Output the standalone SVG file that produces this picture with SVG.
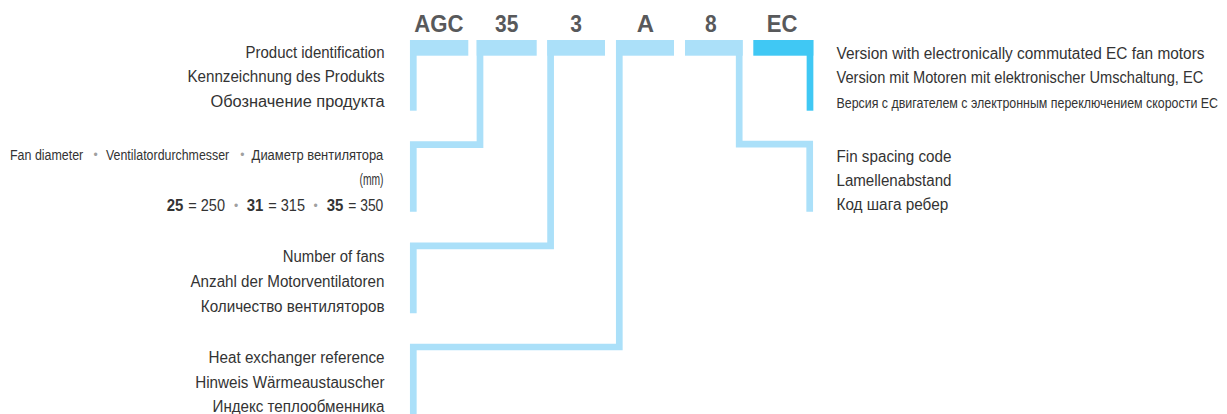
<svg xmlns="http://www.w3.org/2000/svg" width="1227" height="414" viewBox="0 0 1227 414">
<defs>
<style>
.code{font-family:"Liberation Sans",Arial,sans-serif;font-weight:bold;font-size:24.5px;fill:#58595b;text-anchor:middle}
.t{font-family:"Liberation Sans",Arial,sans-serif;font-size:16px;fill:#333333}
.s{font-family:"Liberation Sans",Arial,sans-serif;font-size:15px;fill:#333333}
.r{font-family:"Liberation Sans",Arial,sans-serif;font-size:14px;fill:#333333}
.b{font-weight:bold}
.l{text-anchor:end}
.bar{fill:#abe0f9}
.bar.ec{fill:#40c8f4}
.ln{fill:none;stroke:#abe0f9;stroke-width:6.7;stroke-linejoin:miter;stroke-linecap:butt}
.ln.ec{stroke:#40c8f4}
.dot{font-family:"Liberation Sans",Arial,sans-serif;font-size:12px;fill:#a0a0a0;text-anchor:middle}
</style>
</defs>
<rect width="1227" height="414" fill="#ffffff"/>

<g id="connectors">
<path class="ln" d="M413.3 40 V110.7"/>
<path class="ln" d="M480 40 V144.6 H413.3 V211.7"/>
<path class="ln" d="M550.6 40 V245.8 H413.3 V313.3"/>
<path class="ln" d="M619.3 40 V347 H413.3 V414"/>
<path class="ln" d="M739.2 40 V144.2 H809.7 V211.7"/>
<path class="ln ec" d="M810 40 V110.7"/>
</g>

<g id="code-agc">
<rect class="bar" x="410" y="40" width="58.3" height="15.7"/>
<text class="code" x="439" y="32.3" textLength="49.3" lengthAdjust="spacingAndGlyphs">AGC</text>
</g>
<g id="code-35">
<rect class="bar" x="476.7" y="40" width="60" height="15.7"/>
<text class="code" x="506.7" y="32.3" textLength="23.3" lengthAdjust="spacingAndGlyphs">35</text>
</g>
<g id="code-3">
<rect class="bar" x="547.3" y="40" width="57.7" height="15.7"/>
<text class="code" x="576" y="32.3" textLength="11.7" lengthAdjust="spacingAndGlyphs">3</text>
</g>
<g id="code-a">
<rect class="bar" x="616" y="40" width="58" height="15.7"/>
<text class="code" x="645.3" y="32.3" textLength="17.3" lengthAdjust="spacingAndGlyphs">A</text>
</g>
<g id="code-8">
<rect class="bar" x="685" y="40" width="57.7" height="15.7"/>
<text class="code" x="710.8" y="32.3" textLength="11.7" lengthAdjust="spacingAndGlyphs">8</text>
</g>
<g id="code-ec">
<rect class="bar ec" x="753.3" y="40" width="60" height="15.7"/>
<text class="code" x="782" y="32.3" textLength="30.7" lengthAdjust="spacingAndGlyphs">EC</text>
</g>

<g id="desc-product">
<text class="t l" x="384.5" y="57.5" textLength="139" lengthAdjust="spacingAndGlyphs">Product identification</text>
<text class="t l" x="384.5" y="82" textLength="197" lengthAdjust="spacingAndGlyphs">Kennzeichnung des Produkts</text>
<text class="t l" x="384.5" y="106.5" textLength="174" lengthAdjust="spacingAndGlyphs">Обозначение продукта</text>
</g>

<g id="desc-fan">
<text class="s" transform="translate(10 160) scale(0.83 1)" x="0" y="0">Fan diameter</text>
<text class="dot" x="95.7" y="159">•</text>
<text class="s" transform="translate(106 160) scale(0.826 1)" x="0" y="0">Ventilatordurchmesser</text>
<text class="dot" x="242.3" y="159">•</text>
<text class="s l" transform="translate(383.3 160) scale(0.863 1)" x="0" y="0">Диаметр вентилятора</text>
<text class="t l" x="383.5" y="185" textLength="24" lengthAdjust="spacingAndGlyphs">(mm)</text>
<text class="t b" x="166.7" y="211" textLength="16.6" lengthAdjust="spacingAndGlyphs">25</text>
<text class="t" x="188.3" y="211" textLength="36.7" lengthAdjust="spacingAndGlyphs">= 250</text>
<text class="dot" x="236" y="210">•</text>
<text class="t b" x="246.7" y="211" textLength="16.6" lengthAdjust="spacingAndGlyphs">31</text>
<text class="t" x="268.3" y="211" textLength="36.7" lengthAdjust="spacingAndGlyphs">= 315</text>
<text class="dot" x="315.5" y="210">•</text>
<text class="t b" x="326.7" y="211" textLength="16.6" lengthAdjust="spacingAndGlyphs">35</text>
<text class="t" x="348.3" y="211" textLength="35" lengthAdjust="spacingAndGlyphs">= 350</text>
</g>

<g id="desc-number">
<text class="t l" x="384.5" y="261.7" textLength="101.7" lengthAdjust="spacingAndGlyphs">Number of fans</text>
<text class="t l" x="384.5" y="286.7" textLength="194" lengthAdjust="spacingAndGlyphs">Anzahl der Motorventilatoren</text>
<text class="t l" x="384.5" y="311.7" textLength="183.7" lengthAdjust="spacingAndGlyphs">Количество вентиляторов</text>
</g>

<g id="desc-heat">
<text class="t l" x="384.5" y="363.3" textLength="176" lengthAdjust="spacingAndGlyphs">Heat exchanger reference</text>
<text class="t l" x="384.5" y="388.3" textLength="189.3" lengthAdjust="spacingAndGlyphs">Hinweis Wärmeaustauscher</text>
<text class="t l" x="384.5" y="411.5" textLength="172" lengthAdjust="spacingAndGlyphs">Индекс теплообменника</text>
</g>

<g id="desc-version">
<text class="t" x="836.5" y="58.5" textLength="368" lengthAdjust="spacingAndGlyphs">Version with electronically commutated EC fan motors</text>
<text class="t" transform="translate(836.5 83) scale(0.915 1)" x="0" y="0">Version mit Motoren mit elektronischer Umschaltung, EC</text>
<text class="r" transform="translate(836.5 108) scale(0.887 1)" x="0" y="0">Версия с двигателем с электронным переключением скорости EC</text>
</g>

<g id="desc-fin">
<text class="t" x="836.5" y="161.7" textLength="115" lengthAdjust="spacingAndGlyphs">Fin spacing code</text>
<text class="t" x="836.5" y="185.5" textLength="115" lengthAdjust="spacingAndGlyphs">Lamellenabstand</text>
<text class="t" x="836.5" y="209.5" textLength="111.7" lengthAdjust="spacingAndGlyphs">Код шага ребер</text>
</g>
</svg>
